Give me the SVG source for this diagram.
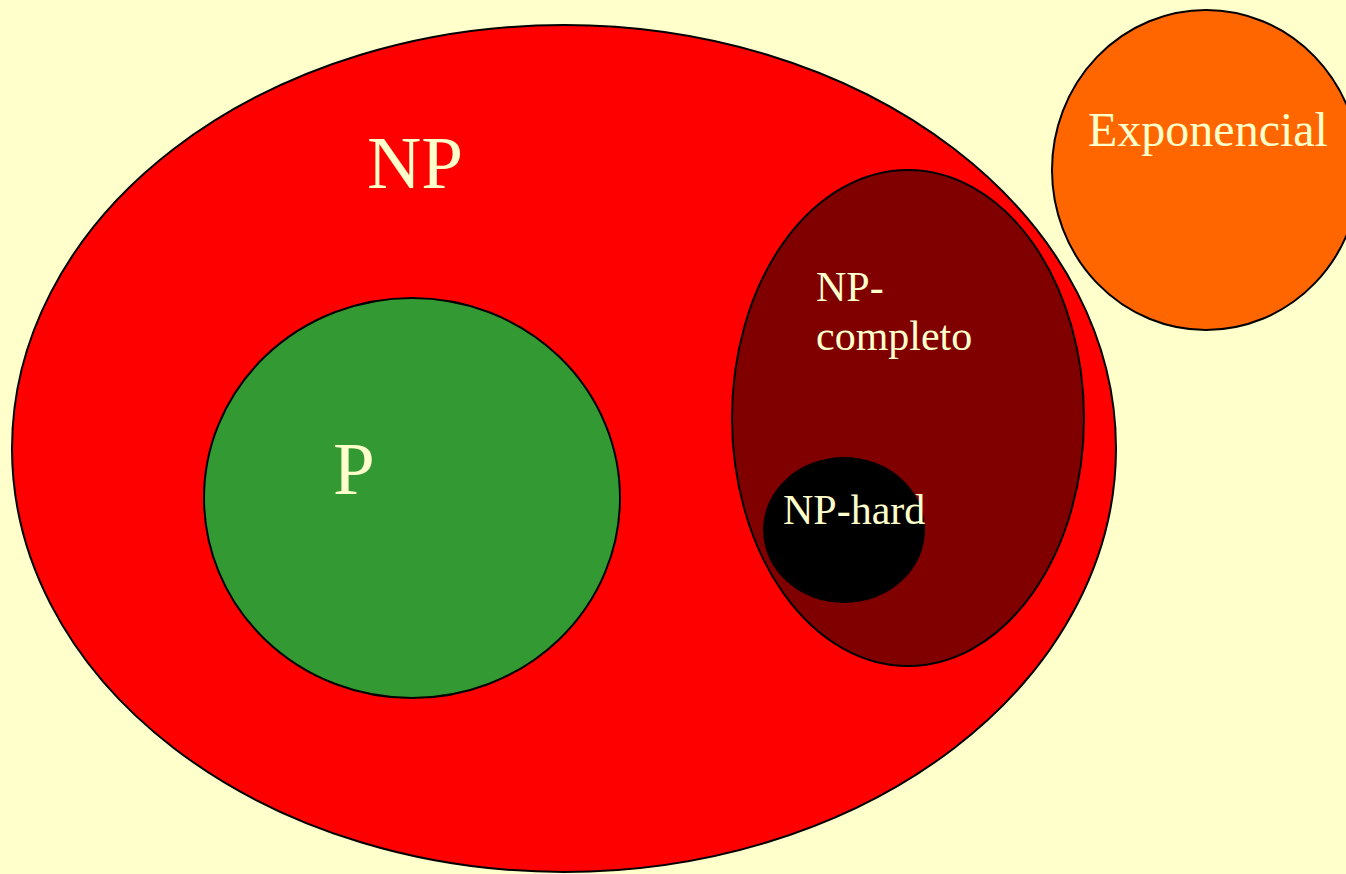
<svg xmlns="http://www.w3.org/2000/svg" width="1346" height="874" viewBox="0 0 1346 874">
<style>
.s{stroke:#000;stroke-width:2}
.t{font-family:"Liberation Serif","Times New Roman",serif;fill:#FFFFCC}
</style>
<rect width="1346" height="874" fill="#FFFFCC"/>
<g id="np">
<ellipse class="s" cx="564" cy="448.5" rx="552" ry="423.5" fill="#FF0000"/>
<text class="t" x="367" y="188" font-size="75">NP</text>
</g>
<g id="p">
<ellipse class="s" cx="412" cy="498" rx="208" ry="200" fill="#339933"/>
<text class="t" x="333" y="494" font-size="75">P</text>
</g>
<g id="npc">
<ellipse class="s" cx="908" cy="418" rx="176" ry="248" fill="#800000"/>
<text class="t" x="816" y="301" font-size="42">NP-</text>
<text class="t" x="816" y="350" font-size="42">completo</text>
</g>
<g id="nph">
<ellipse cx="844" cy="530" rx="81" ry="73" fill="#000"/>
<text class="t" x="783" y="524" font-size="42">NP-hard</text>
</g>
<g id="exp">
<ellipse class="s" cx="1206" cy="170" rx="154" ry="160" fill="#FF6600"/>
<text class="t" x="1088" y="146" font-size="48">Exponencial</text>
</g>
<g id="connectors"></g>
</svg>
